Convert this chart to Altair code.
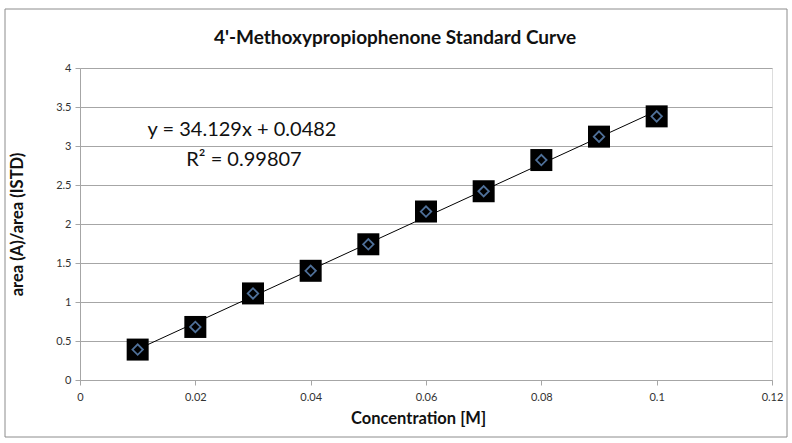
import altair as alt
import pandas as pd

concentration = [0.01, 0.02, 0.03, 0.04, 0.05, 0.06, 0.07, 0.08, 0.09, 0.10]
area_ratio = [0.39, 0.68, 1.11, 1.40, 1.74, 2.16, 2.42, 2.82, 3.12, 3.38]
equation_lines = ["y = 34.129x + 0.0482", "R² = 0.99807"]
title_text = "4'-Methoxypropiophenone Standard Curve"
x_ticks = [0, 0.02, 0.04, 0.06, 0.08, 0.1, 0.12]
y_ticks = [0, 0.5, 1, 1.5, 2, 2.5, 3, 3.5, 4]

df = pd.DataFrame({"x": concentration, "y": area_ratio})
FONT = "Lato"

xs = alt.Scale(domain=[0, 0.12], nice=False, zero=True)
ys = alt.Scale(domain=[0, 4], nice=False)

xax = alt.Axis(values=x_ticks, format=".2~f", grid=False, labelOverlap=False, labelFlush=False,
               tickSize=5, tickColor="#a6a6a6", domainColor="#a6a6a6", labelPadding=6,
               labelFont=FONT, labelFontSize=11, labelColor="#333333",
               title="Concentration [M]", titleFont=FONT, titleFontSize=16.5, titleFontWeight="bold",
               titleColor="#111111", titleY=38, titleX=338, titleBaseline="middle")
yax = alt.Axis(values=y_ticks, format=".1~f", grid=True, labelOverlap=False, labelFlush=False,
               gridColor="#a6a6a6", tickSize=5, tickColor="#a6a6a6", domainColor="#a6a6a6",
               labelPadding=4, labelFont=FONT, labelFontSize=11, labelColor="#333333",
               title="area (A)/area (ISTD)", titleFont=FONT, titleFontSize=16.5, titleFontWeight="bold",
               titleColor="#111111", titleX=-63, titleY=156, titleBaseline="middle", titleAngle=-90)

X = alt.X("x:Q", scale=xs, axis=xax)
Y = alt.Y("y:Q", scale=ys, axis=yax)

base = alt.Chart(df)

border = base.mark_rect(fill=None, stroke="#8c8c8c", strokeWidth=1).encode(
    x=alt.value(-75), x2=alt.value(707), y=alt.value(-59), y2=alt.value(369)
).transform_filter("datum.x == 0.01")

trend = base.transform_regression("x", "y", method="linear").mark_line(
    color="black", strokeWidth=1
).encode(x=X, y=Y)

squares = base.mark_square(color="black", size=484, opacity=1).encode(x=X, y=Y)

diamonds = base.mark_point(shape="diamond", filled=False, stroke="#4f7099", strokeWidth=1.8,
                           size=110, opacity=1).encode(x=X, y=Y)

eq1 = alt.Chart(pd.DataFrame({"t": [equation_lines[0]]})).mark_text(
    font=FONT, fontSize=20, color="#111111", align="center", baseline="middle"
).encode(text="t:N", x=alt.value(162), y=alt.value(62))

eq2 = alt.Chart(pd.DataFrame({"t": [equation_lines[1]]})).mark_text(
    font=FONT, fontSize=20, color="#111111", align="center", baseline="middle"
).encode(text="t:N", x=alt.value(164), y=alt.value(92))

title = alt.Chart(pd.DataFrame({"t": [title_text]})).mark_text(
    font=FONT, fontSize=19, fontWeight="bold", color="#111111", align="center", baseline="middle"
).encode(text="t:N", x=alt.value(315), y=alt.value(-30))

chart = alt.layer(border, trend, squares, diamonds, eq1, eq2, title).properties(
    width=692, height=312,
    autosize=alt.AutoSizeParams(type="none"),
    padding={"left": 80, "top": 68, "right": 20, "bottom": 63},
).configure_view(stroke=None).configure(background="white")

chart.save("out.html", embed_options={"renderer": "svg", "actions": False})
